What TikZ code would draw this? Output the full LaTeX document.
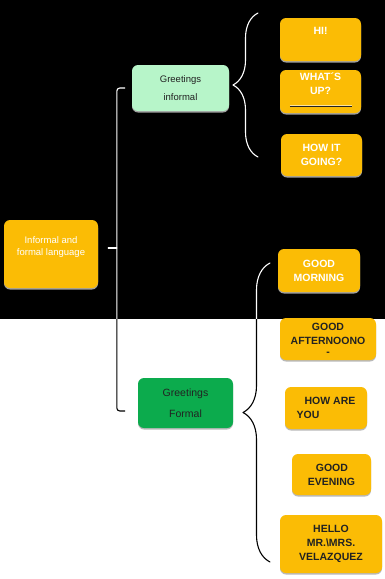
\documentclass[tikz,border=0pt]{standalone}
\usepackage{fontspec}
\setmainfont{Liberation Sans}
\usetikzlibrary{decorations.pathreplacing,shadows}

\definecolor{amber}{HTML}{FBBC05}
\definecolor{mint}{HTML}{B7F5C9}
\definecolor{leaf}{HTML}{0CAB4D}
\definecolor{ink}{HTML}{222222}

\tikzset{
  card/.style={fill=amber, rounded corners=6pt, align=center, inner sep=2pt,
    font=\fontsize{10.5}{14}\selectfont\bfseries,
    drop shadow={shadow xshift=0pt, shadow yshift=-1.5pt, fill=gray!60, opacity=0.9}},
  darkcard/.style={card, text=white},
  lightcard/.style={card, text=ink},
  bracket/.style={line width=1.1pt, line cap=round, line join=round},
}

\begin{document}
\begin{tikzpicture}[x=1pt, y=-1pt]
% background: black top, white bottom
\fill[white] (0,0) rectangle (385,579);
\useasboundingbox (0,0) rectangle (385,579);
\fill[black] (0,0) rectangle (385,319);

% root and the two groups
\node[darkcard, minimum width=94pt, minimum height=68pt, font=\fontsize{9.5}{12}\selectfont]
  (lang) at (51,254) {Informal and\\formal language\\[4pt]};
\node[lightcard, fill=mint, minimum width=97pt, minimum height=46pt, font=\fontsize{9.5}{18}\selectfont]
  (inf) at (180.5,88) {Greetings\\informal};
\node[lightcard, fill=leaf, minimum width=95pt, minimum height=50pt, font=\fontsize{10.5}{21}\selectfont]
  (frm) at (185.5,403) {Greetings\\Formal};

% informal greetings
\node[darkcard, minimum width=81pt, minimum height=43pt] (hi) at (320.5,39.5) {HI!\\[3pt]};
\node[darkcard, minimum width=81pt, minimum height=43pt] (whats) at (320.5,91.5) {WHAT´S\\UP?\\[2pt]};
\node[darkcard, minimum width=81pt, minimum height=42pt] (howgoing) at (321.5,155) {HOW IT\\GOING?};

% formal greetings
\node[darkcard, minimum width=82pt, minimum height=43pt] (morning) at (319,270.5) {GOOD\\MORNING};
\node[lightcard, minimum width=96pt, minimum height=42pt] (afternoon) at (328,339) {GOOD\\AFTERNOONO\\[-3pt]-};
\node[lightcard, align=left, minimum width=82pt, minimum height=42pt] (howare) at (326,408)
  {\hspace*{8pt}HOW ARE\\YOU};
\node[lightcard, align=left, minimum width=79pt, minimum height=41pt] (evening) at (331.5,474.5)
  {\hspace*{8pt}GOOD\\EVENING};
\node[lightcard, minimum width=102pt, minimum height=58pt] (hello) at (331,544)
  {HELLO\\MR.\textbackslash MRS.\\VELAZQUEZ};

% mark under WHAT'S UP?
\draw[amber!40, line width=1.2pt] ([xshift=10pt, yshift=8pt]whats.south west) -- ([xshift=-9pt, yshift=8pt]whats.south east);
\draw[ink, line width=0.7pt] ([xshift=10pt, yshift=7pt]whats.south west) -- ([xshift=-9pt, yshift=7pt]whats.south east);

% bracket ends
\coordinate (spine) at ([xshift=-15pt]inf.west);
\coordinate (frmhook) at ([xshift=-13pt, yshift=-8pt]frm.west);
\coordinate (langtick) at ([xshift=10pt, yshift=6pt]lang.east);
\coordinate (infBot) at (258,157);
\coordinate (infTop) at (258,13);
\coordinate (frmBot) at (270,562);
\coordinate (frmTop) at (270,263);

% root bracket
\draw[bracket, white] (langtick) -- (spine |- langtick);
\draw[bracket, white, decorate, decoration={brace, amplitude=25pt}] (infBot) -- (infTop);
\foreach \clr/\ya/\yb in {white/0/319, black/319/579}{
  \begin{scope}
    \clip (0,\ya) rectangle (385,\yb);
    \draw[bracket, \clr, rounded corners=3pt] ([xshift=-7pt]inf.west) -- (spine) -- (spine |- frmhook) -- (frmhook);
    \draw[bracket, \clr, decorate, decoration={brace, amplitude=27pt}] (frmBot) -- (frmTop);
  \end{scope}
}
\end{tikzpicture}
\end{document}
